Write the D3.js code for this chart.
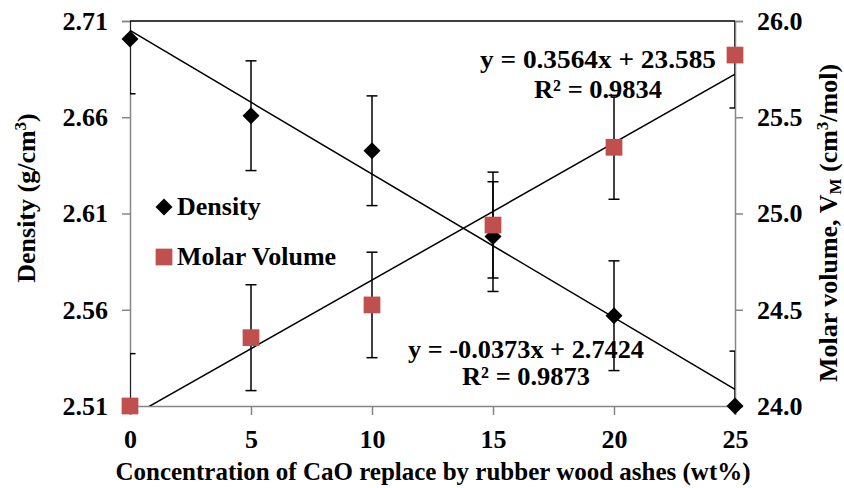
<!DOCTYPE html>
<html>
<head>
<meta charset="utf-8">
<script src="https://cdn.jsdelivr.net/npm/d3@7"></script>
<style>
    body { margin: 0; background: #fff; }
    text { font-family: "Liberation Serif", "Times New Roman", serif; font-weight: bold; fill: #000; }
</style>
</head>
<body>
<div id="chart"></div>
<script>
// data
const concentration = [0, 5, 10, 15, 20, 25];
const density = [2.7007, 2.6608, 2.6426, 2.598, 2.5569, 2.51];
const densityErr = [0.0285, 0.0285, 0.0285, 0.0285, 0.0285, 0.0285];
const molarVolume = [24.0, 24.355, 24.525, 24.94, 25.344, 25.823];
const molarErr = [0.272, 0.275, 0.274, 0.275, 0.27, 0.275];

// trendline coefficients (Excel: x is the point index 1..6)
const densityFit = { slope: -0.0373, intercept: 2.7424 };
const molarFit = { slope: 0.3564, intercept: 23.585 };

const xTicks = [0, 5, 10, 15, 20, 25];
const densityTicks = [2.51, 2.56, 2.61, 2.66, 2.71];
const molarTicks = [24.0, 24.5, 25.0, 25.5, 26.0];

const width = 844;
const height = 488;
const plotLeft = 130, plotRight = 735, plotTop = 21, plotBottom = 406;

const svg = d3.select("#chart")
    .append("svg")
    .attr("width", width)
    .attr("height", height);

const xScale = d3.scaleLinear().domain([0, 25]).range([plotLeft, plotRight]);
const yLeft = d3.scaleLinear().domain([2.51, 2.71]).range([plotBottom, plotTop]);
const yRight = d3.scaleLinear().domain([24.0, 26.0]).range([plotBottom, plotTop]);

svg.append("clipPath")
    .attr("id", "plot-clip")
    .append("rect")
    .attr("x", plotLeft)
    .attr("y", plotTop)
    .attr("width", plotRight - plotLeft)
    .attr("height", plotBottom - plotTop);

// axes
const gray = "#868686";
const xAxis = svg.append("g")
    .attr("transform", `translate(0, ${plotBottom})`)
    .call(d3.axisBottom(xScale).tickValues(xTicks).tickSize(9).tickFormat(d3.format("d")));
const leftAxis = svg.append("g")
    .attr("transform", `translate(${plotLeft}, 0)`)
    .call(d3.axisLeft(yLeft).tickValues(densityTicks).tickSize(8).tickFormat(d3.format(".2f")));
const rightAxis = svg.append("g")
    .attr("transform", `translate(${plotRight}, 0)`)
    .call(d3.axisRight(yRight).tickValues(molarTicks).tickSize(8).tickFormat(d3.format(".1f")));

[xAxis, leftAxis, rightAxis].forEach(function (g) {
    g.select(".domain").attr("stroke", gray).attr("stroke-width", 1.5);
    g.selectAll(".tick line").attr("stroke", gray).attr("stroke-width", 1.5);
    g.selectAll(".tick text")
        .attr("font-size", "26px")
        .attr("font-family", "Liberation Serif, serif")
        .attr("font-weight", "bold")
        .attr("fill", "#000");
});
xAxis.selectAll(".tick text").attr("y", 24).attr("dy", "0.71em");
leftAxis.selectAll(".tick text").attr("x", -22);
rightAxis.selectAll(".tick text").attr("x", 22);

// top border
svg.append("line")
    .attr("x1", plotLeft).attr("x2", plotRight)
    .attr("y1", plotTop).attr("y2", plotTop)
    .attr("stroke", "#000")
    .attr("stroke-width", 1.5);

const plot = svg.append("g").attr("clip-path", "url(#plot-clip)");

// trendlines
function fitLine(fit, yScale) {
    return [0, 25].map(function (x) {
        const i = x / 5 + 1;
        return [xScale(x), yScale(fit.slope * i + fit.intercept)];
    });
}
plot.append("path")
    .attr("d", d3.line()(fitLine(densityFit, yLeft)))
    .attr("stroke", "#000").attr("stroke-width", 1.5).attr("fill", "none");
plot.append("path")
    .attr("d", d3.line()(fitLine(molarFit, yRight)))
    .attr("stroke", "#000").attr("stroke-width", 1.5).attr("fill", "none");

// error bars
function errorBars(values, errs, yScale) {
    for (let i = 0; i < values.length; i++) {
        const cx = xScale(concentration[i]);
        const y1 = yScale(values[i] - errs[i]);
        const y2 = yScale(values[i] + errs[i]);
        plot.append("line")
            .attr("x1", cx).attr("x2", cx).attr("y1", y1).attr("y2", y2)
            .attr("stroke", "#000").attr("stroke-width", 1.5);
        [y1, y2].forEach(function (y) {
            plot.append("line")
                .attr("x1", cx - 5.5).attr("x2", cx + 5.5).attr("y1", y).attr("y2", y)
                .attr("stroke", "#000").attr("stroke-width", 1.5);
        });
    }
}
errorBars(density, densityErr, yLeft);
errorBars(molarVolume, molarErr, yRight);

// markers
const diamond = d3.symbol().type(d3.symbolSquare).size(144);
const square = d3.symbol().type(d3.symbolSquare).size(280);

for (let i = 0; i < density.length; i++) {
    svg.append("path")
        .attr("d", diamond())
        .attr("transform", `translate(${xScale(concentration[i])}, ${yLeft(density[i])}) rotate(45)`)
        .attr("fill", "#000");
}
for (let i = 0; i < molarVolume.length; i++) {
    svg.append("path")
        .attr("d", square())
        .attr("transform", `translate(${xScale(concentration[i])}, ${yRight(molarVolume[i])})`)
        .attr("fill", "#C0504D");
}

// legend
svg.append("path")
    .attr("d", diamond())
    .attr("transform", "translate(164, 207) rotate(45)")
    .attr("fill", "#000");
svg.append("text")
    .attr("x", 177).attr("y", 215)
    .attr("font-size", "26px")
    .text("Density");
svg.append("path")
    .attr("d", square())
    .attr("transform", "translate(164, 257)")
    .attr("fill", "#C0504D");
svg.append("text")
    .attr("x", 177).attr("y", 265)
    .attr("font-size", "26px")
    .text("Molar Volume");

// trendline equations
const eqs = [
    { x: 598, y: 68, t: "y = 0.3564x + 23.585" },
    { x: 598, y: 98, t: "R² = 0.9834" },
    { x: 526, y: 358, t: "y = -0.0373x + 2.7424" },
    { x: 526, y: 385, t: "R² = 0.9873" }
];
eqs.forEach(function (e) {
    svg.append("text")
        .attr("x", e.x).attr("y", e.y)
        .attr("text-anchor", "middle")
        .attr("font-size", "26px")
        .attr("textLength", e.t.length > 12 ? 236 : 128)
        .attr("lengthAdjust", "spacingAndGlyphs")
        .text(e.t);
});

// axis titles
svg.append("text")
    .attr("x", 433)
    .attr("y", 480)
    .attr("text-anchor", "middle")
    .attr("font-size", "25px")
    .text("Concentration of CaO replace by rubber wood ashes (wt%)");

const yTitle = svg.append("text")
    .attr("transform", "translate(35, 198) rotate(-90)")
    .attr("text-anchor", "middle")
    .attr("font-size", "26px");
yTitle.append("tspan").text("Density (g/cm");
yTitle.append("tspan").attr("font-size", "17px").attr("dy", -9).text("3");
yTitle.append("tspan").attr("dy", 9).text(")");

const y2Title = svg.append("text")
    .attr("transform", "translate(837, 223) rotate(-90)")
    .attr("text-anchor", "middle")
    .attr("font-size", "26px");
y2Title.append("tspan").text("Molar volume, V");
y2Title.append("tspan").attr("font-size", "17px").attr("dy", 4).text("M");
y2Title.append("tspan").attr("dy", -4).text(" (cm");
y2Title.append("tspan").attr("font-size", "17px").attr("dy", -9).text("3");
y2Title.append("tspan").attr("dy", 9).text("/mol)");
</script>
</body>
</html>
